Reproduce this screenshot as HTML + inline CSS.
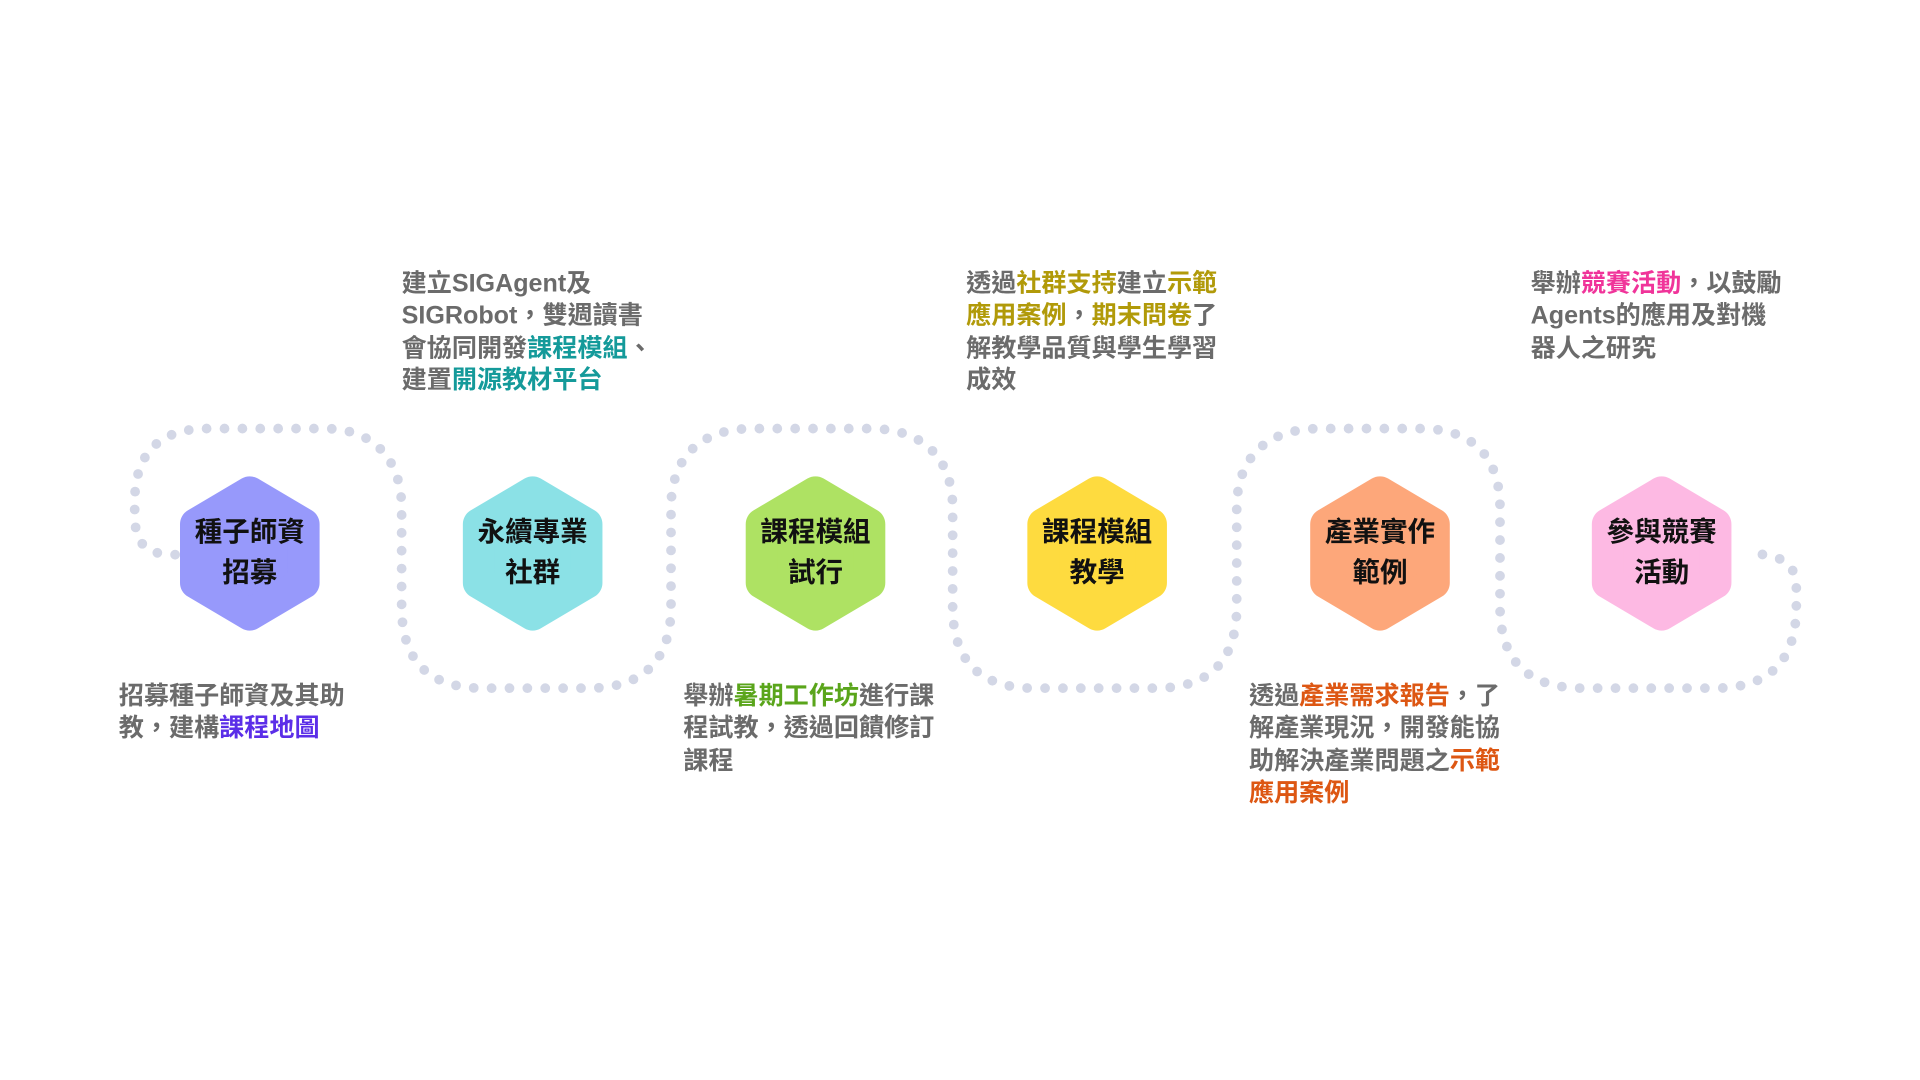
<!DOCTYPE html>
<html><head><meta charset="utf-8"><style>
html,body{margin:0;padding:0;background:#fff;width:1920px;height:1080px;overflow:hidden}
#s{position:absolute;left:0;top:0;width:1568px;height:882px;transform:scale(1.22449);transform-origin:0 0}
.t{position:absolute;font-family:"Liberation Sans","Noto Sans CJK TC",sans-serif;font-weight:bold;font-size:20.5px;line-height:26.3px;color:#6b6b6b;white-space:nowrap}
.h{position:absolute;width:120px;text-align:center;font-family:"Liberation Sans","Noto Sans CJK TC",sans-serif;font-weight:bold;font-size:22.5px;line-height:33px;color:#111}
.p{color:#5b2ee8}.c{color:#149a9a}.g{color:#5aa51b}.o{color:#b19a09}.r{color:#dd5713}.k{color:#f0349a}
</style></head><body><div id="s">
<svg width="1568" height="882" style="position:absolute;left:0;top:0">
<path d="M143,453 C120,453 110,445 110,420 L110,410 C110,370 130,350 170,350 L265,350 C305,350 328,375 328,415 L328,495 C328,540 350,562 395,562 L480,562 C525,562 548,540 548,495 L548,415 C548,375 570,350 615,350 L710,350 C755,350 778,375 778,415 L778,495 C778,540 800,562 845,562 L943,562 C988,562 1010,540 1010,495 L1010,415 C1010,375 1033,350 1078,350 L1160,350 C1205,350 1225,375 1225,415 L1225,495 C1225,540 1248,562 1293,562 L1400,562 C1445,562 1467,540 1467,495 L1467,480 C1467,460 1455,452 1425,452" fill="none" stroke="#d3d7e6" stroke-width="8" stroke-linecap="round" stroke-dasharray="0 14.6"/>
<g stroke-linejoin="round" stroke-width="26">
<polygon transform="translate(204,452)" points="0,-50 44,-24 44,24 0,50 -44,24 -44,-24" fill="#9799fb" stroke="#9799fb"/>
<polygon transform="translate(435,452)" points="0,-50 44,-24 44,24 0,50 -44,24 -44,-24" fill="#8be1e6" stroke="#8be1e6"/>
<polygon transform="translate(666,452)" points="0,-50 44,-24 44,24 0,50 -44,24 -44,-24" fill="#aee263" stroke="#aee263"/>
<polygon transform="translate(896,452)" points="0,-50 44,-24 44,24 0,50 -44,24 -44,-24" fill="#fedb3f" stroke="#fedb3f"/>
<polygon transform="translate(1127,452)" points="0,-50 44,-24 44,24 0,50 -44,24 -44,-24" fill="#fda77a" stroke="#fda77a"/>
<polygon transform="translate(1357,452)" points="0,-50 44,-24 44,24 0,50 -44,24 -44,-24" fill="#fdb9e3" stroke="#fdb9e3"/>
</g></svg>
<div class="h" style="left:144px;top:418px">種子師資<br>招募</div>
<div class="h" style="left:375px;top:418px">永續專業<br>社群</div>
<div class="h" style="left:606px;top:418px">課程模組<br>試行</div>
<div class="h" style="left:836px;top:418px">課程模組<br>教學</div>
<div class="h" style="left:1067px;top:418px">產業實作<br>範例</div>
<div class="h" style="left:1297px;top:418px">參與競賽<br>活動</div>

<div class="t" style="left:97px;top:556px">招募種子師資及其助<br>教，建構<span class="p">課程地圖</span></div>
<div class="t" style="left:328px;top:219px">建立SIGAgent及<br>SIGRobot，雙週讀書<br>會協同開發<span class="c">課程模組</span>、<br>建置<span class="c">開源教材平台</span></div>
<div class="t" style="left:558px;top:556px">舉辦<span class="g">暑期工作坊</span>進行課<br>程試教，透過回饋修訂<br>課程</div>
<div class="t" style="left:789px;top:219px">透過<span class="o">社群支持</span>建立<span class="o">示範</span><br><span class="o">應用案例</span>，<span class="o">期末問卷</span>了<br>解教學品質與學生學習<br>成效</div>
<div class="t" style="left:1020px;top:556px">透過<span class="r">產業需求報告</span>，了<br>解產業現況，開發能協<br>助解決產業問題之<span class="r">示範</span><br><span class="r">應用案例</span></div>
<div class="t" style="left:1250px;top:219px">舉辦<span class="k">競賽活動</span>，以鼓勵<br>Agents的應用及對機<br>器人之研究</div>
</div></body></html>
